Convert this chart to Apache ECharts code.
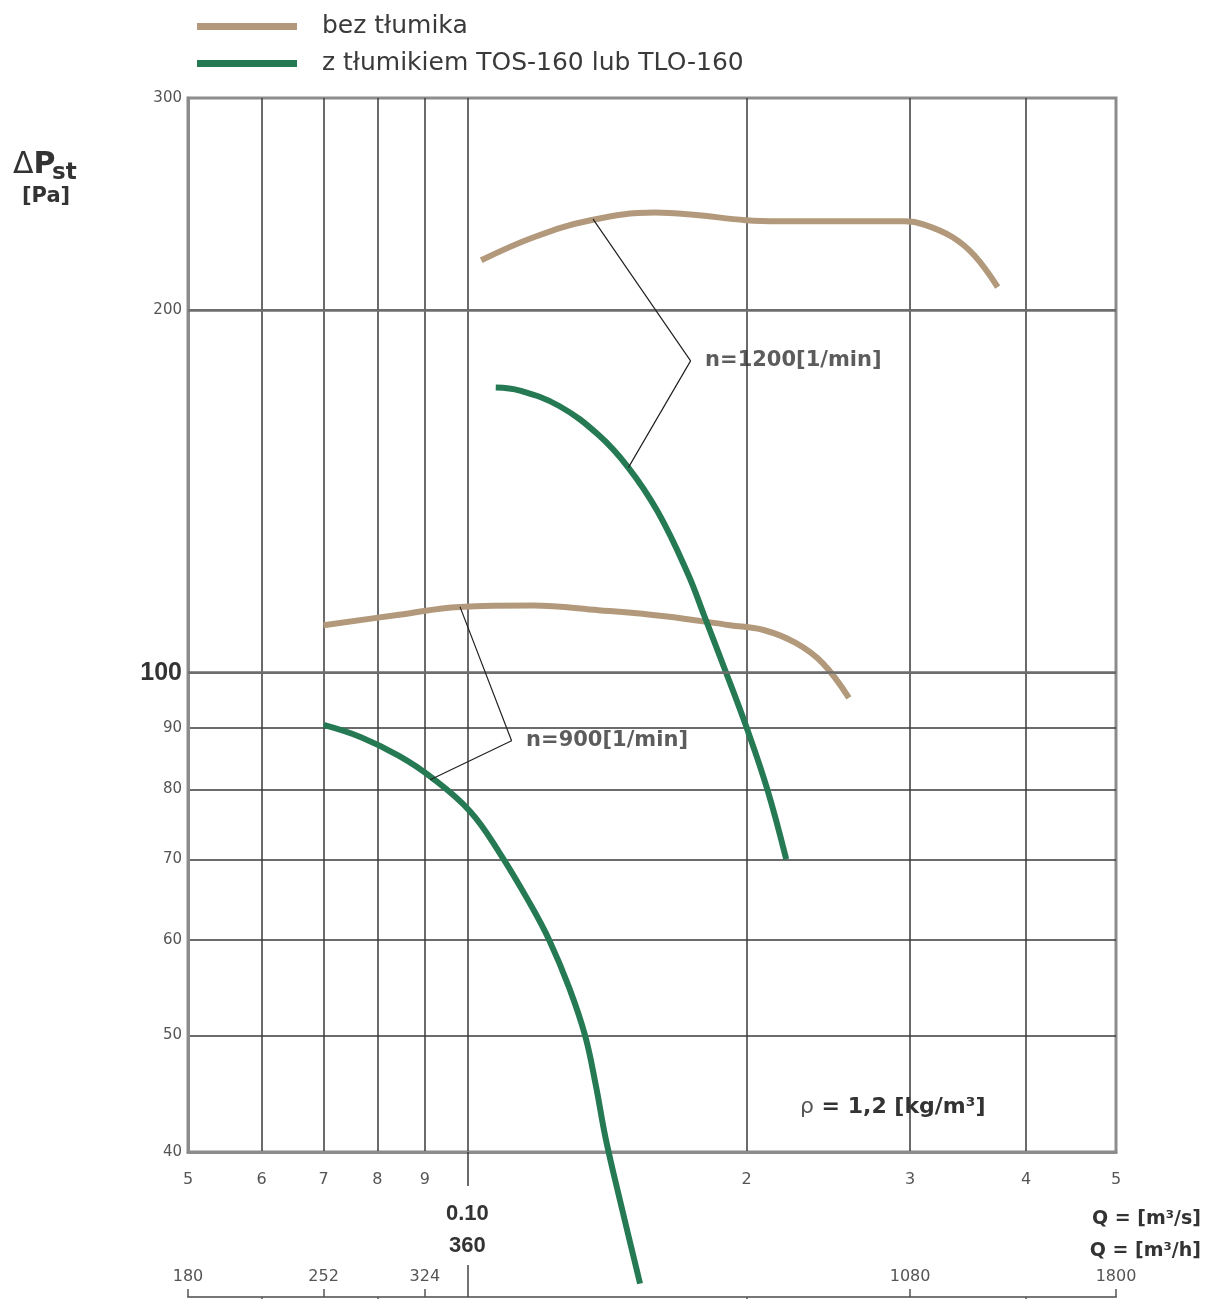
<!DOCTYPE html>
<html>
<head>
<meta charset="utf-8">
<script src="https://cdn.jsdelivr.net/npm/echarts@6/dist/echarts.min.js"></script>
<style>html,body{margin:0;padding:0;background:#fff;}#c{width:1205px;height:1299px;}</style>
</head>
<body>
<div id="c"></div>
<script>
// ---- axis ticks ----
const qTicks = [0.05, 0.06, 0.07, 0.08, 0.09, 0.2, 0.3, 0.4, 0.5];
const qTickLabels = ['5', '6', '7', '8', '9', '2', '3', '4', '5'];
const qGrid = [0.06, 0.07, 0.08, 0.09, 0.1, 0.2, 0.3, 0.4];
const pTicks = [40, 50, 60, 70, 80, 90, 100, 200, 300];
const pGrid = [50, 60, 70, 80, 90, 100, 200];
const pMajor = [100, 200];
const hTicks = [180, 252, 324, 1080, 1800];
const hMinor = [216, 288, 720, 1440];

// ---- series: [Q m3/s, dP Pa] ----
const tan1200 = [[0.1035,220],[0.1181,230],[0.1358,237.5],[0.1593,241],[0.1752,240],[0.1995,237.5],[0.2174,237],[0.25,237],[0.2964,237],[0.3106,235.5],[0.3331,230],[0.3519,222],[0.3728,209]];
const green1200 = [[0.1073,172.5],[0.1139,171.5],[0.1256,166.5],[0.1385,157.5],[0.1491,148],[0.1604,136],[0.1727,121],[0.18,111.5],[0.1891,101],[0.2,90],[0.2105,80],[0.2206,70]];
const tan900 = [[0.07,109.5],[0.0844,111.7],[0.0982,113.4],[0.1176,113.7],[0.1385,112.7],[0.1632,111.4],[0.1918,109.5],[0.2085,108.5],[0.2261,105.8],[0.2416,101.8],[0.2577,95.3]];
const green900 = [[0.07,90.5],[0.0768,88.4],[0.0844,85.3],[0.0914,81.9],[0.1007,76.7],[0.1084,70.8],[0.1167,64.4],[0.1225,60],[0.1287,54.8],[0.1339,50],[0.1375,45.5],[0.1409,41.1],[0.146,36.5],[0.1535,31.1]];
const leader1200 = [[0.1366,238],[0.174,181.5],[0.1491,148]];
const leader900 = [[0.0982,113.4],[0.1116,87.8],[0.0912,81.5]];
const speedLabels = [{name:'n=1200[1/min]', value:[0.174,181.5]}, {name:'n=900[1/min]', value:[0.1116,87.8]}];

const NAME_A = 'bez tłumika';
const NAME_B = 'z tłumikiem TOS-160 lub TLO-160';
const TAN = '#b3997b';
const GREEN = '#267a53';
const GRIDC = '#3a3a3a';
const FRAME = '#8c8c8c';
const FONT = 'DejaVu Sans';
const BFONT = 'Liberation Sans';

function idx(arr, v){ return arr.findIndex(t => Math.abs(t - v) / t < 1e-6); }

const chart = echarts.init(document.getElementById('c'), null, {renderer:'canvas'});

const baseX = {type:'log', min:0.05, max:0.5, gridIndex:0, position:'bottom'};
const hX = {type:'log', min:180, max:1800, gridIndex:0, position:'bottom', offset:145};

const option = {
  backgroundColor:'#fff',
  animation:false,
  grid:{left:188, right:89, top:98, bottom:147, show:true, borderColor:FRAME, borderWidth:3, containLabel:false, outerBoundsMode:'none'},
  legend:{
    data:[NAME_A, NAME_B], orient:'vertical', left:192, top:9, itemWidth:100, itemHeight:7, itemGap:12,
    icon:'rect', selectedMode:false,
    textStyle:{fontFamily:FONT, fontSize:25, color:'#3a3a3a', padding:[0,0,0,20]}
  },
  xAxis:[
    Object.assign({}, baseX, {
      axisLine:{show:true, lineStyle:{color:FRAME, width:3}},
      axisTick:{show:false, customValues:qGrid},
      splitLine:{show:true, lineStyle:{color:GRIDC, width:1.5}},
      axisLabel:{customValues:qTicks, margin:20, fontFamily:FONT, fontSize:16, color:'#555', showMinLabel:true, showMaxLabel:true,
        formatter:v => { const i = idx(qTicks, v); return i >= 0 ? qTickLabels[i] : ''; }}
    }),
    Object.assign({}, baseX, {
      axisLine:{show:false},
      axisTick:{show:true, customValues:[0.1], length:34, lineStyle:{color:GRIDC, width:1.5}},
      splitLine:{show:false},
      axisLabel:{customValues:[0.1], margin:46, formatter:() => '{a|0.10}\n{a|360}',
        rich:{a:{fontFamily:BFONT, fontWeight:'bold', fontSize:22, color:'#333', lineHeight:32}}}
    }),
    Object.assign({}, hX, {
      axisLine:{show:true, lineStyle:{color:'#777', width:2}},
      axisTick:{show:true, inside:true, length:8, customValues:hTicks, lineStyle:{color:'#555', width:1.5}},
      splitLine:{show:false},
      axisLabel:{inside:true, margin:12, customValues:hTicks, fontFamily:FONT, fontSize:16, color:'#555', showMinLabel:true, showMaxLabel:true,
        formatter:v => String(Math.round(v))}
    }),
    Object.assign({}, hX, {
      axisLine:{show:false},
      axisTick:{show:true, inside:true, length:32, customValues:[360], lineStyle:{color:'#444', width:1.5}},
      splitLine:{show:false}, axisLabel:{show:false}
    }),
    Object.assign({}, hX, {
      axisLine:{show:false},
      axisTick:{show:true, inside:false, length:6, customValues:hMinor, lineStyle:{color:'#555', width:1.5}},
      splitLine:{show:false}, axisLabel:{show:false}
    })
  ],
  yAxis:[{
    type:'log', min:40, max:300, gridIndex:0,
    axisLine:{show:true, lineStyle:{color:FRAME, width:3}},
    axisTick:{show:false, customValues:pGrid},
    splitLine:{show:true, lineStyle:{color:GRIDC, width:1.5}},
    axisLabel:{customValues:pTicks, margin:6, showMinLabel:true, showMaxLabel:true,
      formatter:v => { const r = Math.round(v); return r === 100 ? '{b|100}' : '{n|' + r + '}'; },
      rich:{
        n:{fontFamily:FONT, fontSize:15, color:'#555'},
        b:{fontFamily:BFONT, fontWeight:'bold', fontSize:25, color:'#333'}
      }}
  }],
  series:[
    {type:'line', data:[], silent:true, z:1,
      markLine:{silent:true, symbol:['none','none'], label:{show:false}, animation:false,
        lineStyle:{color:'#6e6e6e', width:2.5, type:'solid'},
        emphasis:{disabled:true},
        data:pMajor.map(v => ({yAxis:v}))}},
    {name:NAME_A, type:'line', data:tan1200, smooth:0.4, symbol:'none', color:TAN, lineStyle:{width:6, color:TAN}, z:3},
    {name:NAME_A, type:'line', data:tan900, smooth:0.4, symbol:'none', color:TAN, lineStyle:{width:6, color:TAN}, z:3},
    {name:NAME_B, type:'line', data:green1200, smooth:0.4, symbol:'none', color:GREEN, lineStyle:{width:6, color:GREEN}, z:4},
    {name:NAME_B, type:'line', data:green900, smooth:0.4, symbol:'none', color:GREEN, lineStyle:{width:6, color:GREEN}, z:4, clip:false},
    {name:'leader1200', type:'line', data:leader1200, symbol:'none', lineStyle:{width:1.2, color:'#222'}, z:5},
    {name:'leader900', type:'line', data:leader900, symbol:'none', lineStyle:{width:1.2, color:'#222'}, z:5},
    {name:'speed', type:'scatter', data:speedLabels, symbolSize:1, itemStyle:{color:'rgba(0,0,0,0)'}, z:6,
      label:{show:true, position:'right', distance:14, formatter:'{b}', fontFamily:FONT, fontWeight:'bold', fontSize:21, color:'#333'}}
  ],
  graphic:[
    {type:'text', left:13, top:150, style:{text:'{d|Δ}{p|P}', rich:{d:{fontFamily:FONT, fontSize:30, fill:'#333'}, p:{fontFamily:FONT, fontWeight:'bold', fontSize:30, fill:'#333'}}}},
    {type:'text', left:52, top:162, style:{text:'st', fontFamily:FONT, fontWeight:'bold', fontSize:23, fill:'#333'}},
    {type:'text', left:22, top:186, style:{text:'[Pa]', fontFamily:FONT, fontWeight:'bold', fontSize:21, fill:'#333'}},
    {type:'text', left:800, top:1096, style:{text:'{r|ρ} = 1,2 [kg/m³]', fontFamily:FONT, fontWeight:'bold', fontSize:22, fill:'#333', rich:{r:{fontFamily:FONT, fontWeight:'normal', fontSize:22, fill:'#555'}}}},
    {type:'text', right:4, top:1210, style:{text:'Q = [m³/s]', fontFamily:FONT, fontWeight:'bold', fontSize:19, fill:'#333'}},
    {type:'text', right:4, top:1242, style:{text:'Q = [m³/h]', fontFamily:FONT, fontWeight:'bold', fontSize:19, fill:'#333'}}
  ]
};
chart.setOption(option);
</script>
</body>
</html>
